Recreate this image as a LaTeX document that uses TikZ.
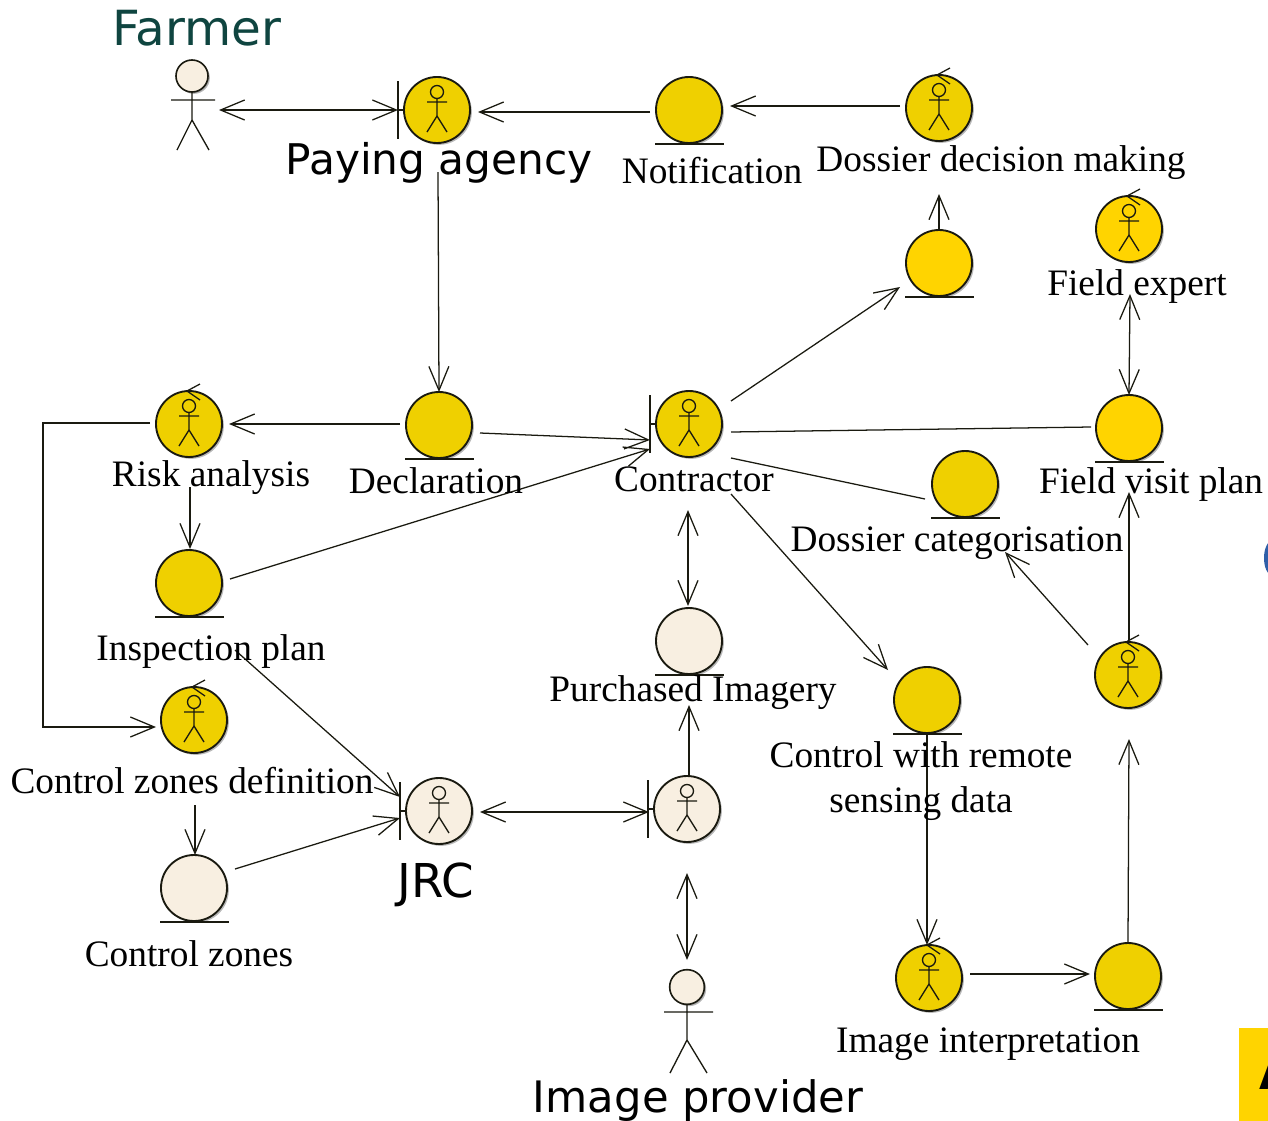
\documentclass[tikz,border=0pt]{standalone}
\usepackage{fontspec}
\setmainfont{Liberation Serif}
\newfontfamily\vfont{DejaVu Sans}
\usetikzlibrary{arrows.meta,shadows}
\definecolor{ylw}{HTML}{EFD000}
\definecolor{brt}{HTML}{FFD400}
\definecolor{bge}{HTML}{F8EFE1}
\definecolor{ink}{HTML}{1A1A10}
\definecolor{teal}{HTML}{0F4540}
\definecolor{edgeblue}{HTML}{2F5FA8}
\tikzset{
 x=0.75pt,y=-0.75pt,
 ball/.style={circle,draw=ink,line width=1.4pt,minimum size=49.5pt,inner sep=0pt,outer sep=0pt,
   drop shadow={shadow xshift=1.4pt,shadow yshift=-1.4pt,fill=gray,opacity=.55}},
 yball/.style={ball,fill=ylw},
 bball/.style={ball,fill=brt},
 cball/.style={ball,fill=bge},
 conn/.style={draw=ink,line width=0.95pt},
 to1/.style={conn,-{Straight Barb[length=18pt,width=15pt,line width=0.95pt]}},
 to2/.style={conn,{Straight Barb[length=18pt,width=15pt,line width=0.95pt]}-{Straight Barb[length=18pt,width=15pt,line width=0.95pt]}},
 lab/.style={font=\fontsize{28}{30}\selectfont,text=black,inner sep=0pt},
 vlab/.style={font=\fontsize{32}{36}\vfont,text=black,inner sep=0pt},
 stick/.pic={\draw[ink,line width=1pt] (0,-18) circle[radius=6.5] (0,-11.5)--(0,6) (-10,-8)--(10,-8) (-10,22)--(0,6)--(10,22);},
 entitybar/.pic={\draw[ink,line width=.95pt] (-34,34)--(35,34);},
 boundbar/.pic={\draw[ink,line width=.95pt] (-39,-29)--(-39,29) (-39,0)--(-33,0);},
 ctrlmark/.pic={\draw[ink,line width=.95pt] (11,-40)--(-2,-33)--(11,-24);},
}
\begin{document}
\begin{tikzpicture}
\useasboundingbox (0,0) rectangle (1268,1121);
\fill[white] (0,0) rectangle (1268,1121);
% page fragments at the right edge
\begin{scope}
\clip (0,0) rectangle (1268,1121);
\fill[brt] (1239,1028) rectangle (1268,1121);
\node[font=\fontsize{34}{36}\vfont\bfseries,anchor=west,inner sep=0pt] (edgeA) at (1259,1073) {A};
\fill[edgeblue] (1272,558) ellipse [x radius=8,y radius=17];
\end{scope}
% farmer
\node[cball,minimum size=24pt,line width=1.2pt,drop shadow={shadow xshift=.8pt,shadow yshift=-.8pt,fill=gray,opacity=.5}] (farmer) at (192,76) {};
\draw[ink,line width=1pt] (farmer.south)--(192,120) (171,100)--(215,100) (177,150)--(192,120)--(209,150);
\node[font=\fontsize{36.3}{40}\vfont,text=teal,inner sep=0pt] (farmerL) at (197,28) {Farmer};
% provider
\node[cball,minimum size=26pt,line width=1.2pt,drop shadow={shadow xshift=.8pt,shadow yshift=-.8pt,fill=gray,opacity=.5}] (provider) at (687,987) {};
\draw[ink,line width=1pt] (provider.south)--(687,1040) (664,1012)--(713,1012) (670,1073)--(687,1040)--(707,1073);
% balls
\node[yball] (paying) at (437,110) {}; \pic at (paying) {stick}; \pic at (paying) {boundbar};
\node[yball] (notif) at (689,110) {}; \pic at (notif) {entitybar};
\node[yball] (dossierdec) at (939,108) {}; \pic at (dossierdec) {stick}; \pic at (dossierdec) {ctrlmark};
\node[bball] (decent) at (939,263) {}; \pic at (decent) {entitybar};
\node[bball] (expert) at (1129,229) {}; \pic at (expert) {stick}; \pic at (expert) {ctrlmark};
\node[bball] (fvp) at (1129,428) {}; \pic at (fvp) {entitybar};
\node[yball] (dcat) at (965,484) {}; \pic at (dcat) {entitybar};
\node[yball] (contr) at (689,424) {}; \pic at (contr) {stick}; \pic at (contr) {boundbar};
\node[yball] (decl) at (439,425) {}; \pic at (decl) {entitybar};
\node[yball] (risk) at (189,424) {}; \pic at (risk) {stick}; \pic at (risk) {ctrlmark};
\node[yball] (insp) at (189,583) {}; \pic at (insp) {entitybar};
\node[yball] (czd) at (194,720) {}; \pic at (czd) {stick}; \pic at (czd) {ctrlmark};
\node[cball] (cz) at (194,888) {}; \pic at (cz) {entitybar};
\node[cball] (jrc) at (439,811) {}; \pic at (jrc) {stick}; \pic at (jrc) {boundbar};
\node[cball] (ipb) at (687,809) {}; \pic at (ipb) {stick}; \pic at (ipb) {boundbar};
\node[cball] (pim) at (689,641) {}; \pic at (pim) {entitybar};
\node[yball] (crs) at (927,700) {}; \pic at (crs) {entitybar};
\node[yball] (ctl) at (1128,675) {}; \pic at (ctl) {stick}; \pic at (ctl) {ctrlmark};
\node[yball] (iint) at (929,978) {}; \pic at (iint) {stick}; \pic at (iint) {ctrlmark};
\node[yball] (ires) at (1128,976) {}; \pic at (ires) {entitybar};
% connectors (y axis runs downward, offsets are from the node centre)
\draw[to2] ([shift={(27,34)}]farmer.center) -- ([shift={(-39,0)}]paying.center);
\draw[to1] ([shift={(-39,2)}]notif.center) -- ([shift={(41,2)}]paying.center);
\draw[to1] ([shift={(-39,-2)}]dossierdec.center) -- ([shift={(41,-4)}]notif.center);
\draw[to1] (decent.north) -- ([shift={(0,86)}]dossierdec.center);
\draw[to1] ([shift={(1,62)}]paying.center) -- (decl.north);
\draw[to1] ([shift={(-39,-1)}]decl.center) -- ([shift={(40,0)}]risk.center);
\draw[to1] ([shift={(41,8)}]decl.center) -- ([shift={(-39,16)}]contr.center);
\draw[to1] ([shift={(1,63)}]risk.center) -- ([shift={(1,-34)}]insp.center);
\draw[to1] ([shift={(-39,-1)}]risk.center) -- (43,423) -- (43,727) -- ([shift={(-38,7)}]czd.center);
\draw[to1] ([shift={(41,-4)}]insp.center) -- ([shift={(-39,25)}]contr.center);
\draw[to1] ([shift={(46,67)}]insp.center) -- ([shift={(-39,-14)}]jrc.center);
\draw[to1] ([shift={(1,85)}]czd.center) -- ([shift={(1,-33)}]cz.center);
\draw[to1] ([shift={(41,-19)}]cz.center) -- ([shift={(-39,7)}]jrc.center);
\draw[to2] ([shift={(41,1)}]jrc.center) -- ([shift={(-38,3)}]ipb.center);
\draw[to1] ([shift={(2,-34)}]ipb.center) -- ([shift={(0,64)}]pim.center);
\draw[to2] ([shift={(-1,86)}]contr.center) -- ([shift={(-1,-35)}]pim.center);
\draw[to2] ([shift={(0,64)}]ipb.center) -- ([shift={(0,-27)}]provider.center);
\draw[to1] ([shift={(42,-23)}]contr.center) -- ([shift={(-39,24)}]decent.center);
\draw[conn] ([shift={(42,8)}]contr.center) -- ([shift={(-38,-1)}]fvp.center);
\draw[conn] ([shift={(42,34)}]contr.center) -- ([shift={(-40,15)}]dcat.center);
\draw[to1] ([shift={(42,70)}]contr.center) -- ([shift={(-39,-30)}]crs.center);
\draw[to2] ([shift={(1,65)}]expert.center) -- (fvp.north);
\draw[to1] ([shift={(1,-35)}]ctl.center) -- ([shift={(0,64)}]fvp.center);
\draw[to1] ([shift={(-40,-30)}]ctl.center) -- ([shift={(40,68)}]dcat.center);
\draw[to1] ([shift={(0,35)}]crs.center) -- ([shift={(-2,-33)}]iint.center);
\draw[to1] ([shift={(41,-4)}]iint.center) -- ([shift={(-38,-2)}]ires.center);
\draw[to1] (ires.north) -- ([shift={(1,64)}]ctl.center);
% labels
\node[vlab,font=\fontsize{31.7}{36}\vfont] (Lpay) at (439,163) {Paying agency};
\node[lab] (Lnot) at (712,171) {Notification};
\node[lab] (Lddm) at (1001,163) {Dossier decision making};
\node[lab] (Lexp) at (1137,287) {Field expert};
\node[lab] (Lrisk) at (211,478) {Risk analysis};
\node[lab] (Ldecl) at (436,481) {Declaration};
\node[lab] (Lcontr) at (694,479) {Contractor};
\node[lab] (Lfvp) at (1151,485) {Field visit plan};
\node[lab] (Ldcat) at (957,543) {Dossier categorisation};
\node[lab] (Linsp) at (211,652) {Inspection plan};
\node[lab] (Lpim) at (693,693) {Purchased Imagery};
\node[lab] (Lczd) at (192,781) {Control zones definition};
\node[lab,align=center,font=\fontsize{28}{33.7}\selectfont] (Lcrs) at (921,781) {Control with remote\\sensing data};
\node[lab] (Lcz) at (189,954) {Control zones};
\node[vlab,font=\fontsize{35}{36}\vfont] (Ljrc) at (436,885) {JRC};
\node[lab] (Liint) at (988,1044) {Image interpretation};
\node[vlab,font=\fontsize{32.5}{36}\vfont] (Lprov) at (698,1101) {Image provider};
\end{tikzpicture}
\end{document}
